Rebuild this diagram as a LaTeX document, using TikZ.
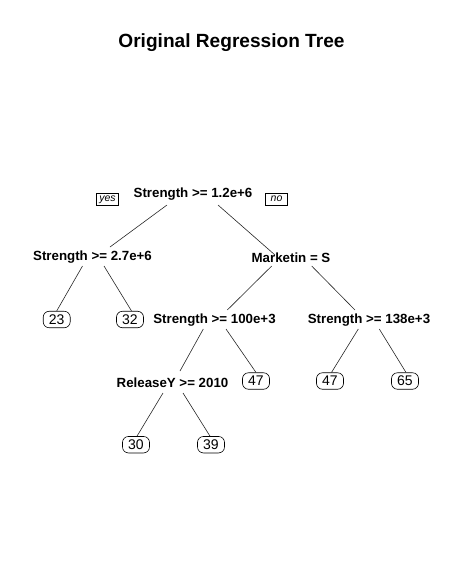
\documentclass[tikz,border=0pt]{standalone}
\usepackage{fontspec}
\setmainfont{Liberation Sans}
\usetikzlibrary{calc}
\begin{document}
\begin{tikzpicture}[x=1pt,y=-1pt,
  split/.style={anchor=base,inner sep=0pt,font=\fontsize{13.3}{15}\selectfont\bfseries},
  leaf/.style={draw,rounded corners=6pt,line width=0.6pt,minimum width=27pt,minimum height=16.5pt,inner sep=0pt,font=\fontsize{14}{16}\selectfont},
  yn/.style={draw,line width=0.5pt,minimum width=22pt,inner xsep=0pt,inner ysep=2pt,text height=7pt,text depth=1.5pt,font=\fontsize{10.5}{12}\selectfont\itshape},
  edge/.style={line width=0.6pt,draw=black!85}]
\useasboundingbox (0,0) rectangle (464,582);
\node[anchor=base,inner sep=0pt,font=\fontsize{19.1}{22}\selectfont\bfseries] (title) at (231.5,47) {Original Regression Tree};
% split nodes
\node[split] (root) at (193,197) {Strength >= 1.2e+6};
\node[split] (l1) at (92.5,260) {Strength >= 2.7e+6};
\node[split] (m) at (291,262) {Marketin = S};
\node[split] (s100) at (214.5,323) {Strength >= 100e+3};
\node[split] (s138) at (369,323) {Strength >= 138e+3};
\node[split] (rel) at (172.5,387) {ReleaseY >= 2010};
% yes / no
\node[yn] (yes) at (107.5,199) {yes};
\node[yn] (no) at (276.5,199) {no};
% leaves
\node[leaf] (f23) at (56.7,319.5) {23};
\node[leaf] (f32) at (130,319.5) {32};
\node[leaf] (f47a) at (256,381) {47};
\node[leaf] (f47b) at (330,381) {47};
\node[leaf] (f65) at (405,381) {65};
\node[leaf] (f30) at (136,444.7) {30};
\node[leaf] (f39) at (211,444.7) {39};
% edges
\draw[edge] ($(root.base)+(-26,8)$) -- ($(l1.base)+(17.5,-13)$);
\draw[edge] ($(root.base)+(25,8)$) -- ($(m.base)+(-16,-7)$);
\draw[edge] ($(l1.base)+(-10,6)$) -- (f23.north);
\draw[edge] ($(l1.base)+(11.5,6)$) -- ([xshift=1.5pt]f32.north);
\draw[edge] ($(m.base)+(-19.3,4)$) -- ($(s100.base)+(12.8,-13)$);
\draw[edge] ($(m.base)+(20.7,4)$) -- ($(s138.base)+(-14,-13)$);
\draw[edge] ($(s100.base)+(-11.2,6)$) -- ($(rel.base)+(7.5,-16)$);
\draw[edge] ($(s100.base)+(11.5,6)$) -- (f47a.north);
\draw[edge] ($(s138.base)+(-10.7,6)$) -- ([xshift=1.5pt]f47b.north);
\draw[edge] ($(s138.base)+(10.3,6)$) -- ([xshift=1pt]f65.north);
\draw[edge] ($(rel.base)+(-9.5,6)$) -- ([xshift=1pt]f30.north);
\draw[edge] ($(rel.base)+(10.5,6)$) -- ([xshift=-1pt]f39.north);
\end{tikzpicture}
\end{document}
